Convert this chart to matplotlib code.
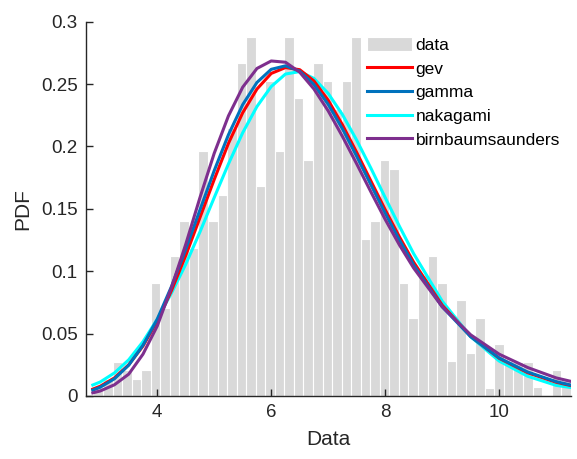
import numpy as np
import matplotlib
matplotlib.use("Agg")
import matplotlib.pyplot as plt

plt.rcParams['font.family'] = ['Liberation Sans', 'DejaVu Sans']

# histogram (pdf-normalised)
bin_start = 2.713
bin_width = 0.1675
bar_heights = [0.001, 0.0069, 0.0139, 0.0275, 0.0208, 0.0136, 0.0208, 0.0908,
               0.0702, 0.112, 0.140, 0.119, 0.196, 0.140, 0.161, 0.215,
               0.2665, 0.288, 0.168, 0.2527, 0.196, 0.288, 0.2385, 0.189,
               0.2665, 0.2527, 0.23, 0.2527, 0.288, 0.1258, 0.140, 0.189,
               0.182, 0.0908, 0.0628, 0.097, 0.112, 0.0908, 0.028, 0.077,
               0.0347, 0.0628, 0.0067, 0.0417, 0.028, 0.0275, 0.0275, 0.0069,
               0.0008, 0.0208, 0.0136, 0.0008]

# fitted pdf curves
curve_x = [2.87, 3.0, 3.25, 3.5, 3.75, 4.0, 4.25, 4.5, 4.75, 5.0, 5.25, 5.5,
           5.75, 6.0, 6.25, 6.5, 6.75, 7.0, 7.25, 7.5, 7.75, 8.0, 8.25, 8.5,
           9.0, 9.5, 10.0, 10.5, 11.0, 11.25]
gev = [0.0055, 0.0078, 0.0145, 0.025, 0.040, 0.060, 0.0845, 0.1125, 0.143,
       0.1735, 0.2025, 0.227, 0.246, 0.2585, 0.2632, 0.2615, 0.2525, 0.2370,
       0.2173, 0.1952, 0.1722, 0.1493, 0.1275, 0.1072, 0.0728, 0.0478, 0.0302,
       0.0186, 0.0110, 0.0084]
gamma = [0.0047, 0.0070, 0.0138, 0.0247, 0.0406, 0.0615, 0.0877, 0.1175,
         0.1492, 0.1806, 0.2094, 0.2335, 0.2513, 0.2618, 0.2646, 0.2603,
         0.2496, 0.2337, 0.2141, 0.1921, 0.1692, 0.1465, 0.1250, 0.1050,
         0.0715, 0.0475, 0.0305, 0.0192, 0.0115, 0.0088]
nakagami = [0.0088, 0.0112, 0.0185, 0.0290, 0.0435, 0.0615, 0.0825, 0.1055,
            0.1315, 0.1590, 0.1860, 0.2110, 0.2320, 0.2480, 0.2580, 0.2600,
            0.2545, 0.2425, 0.2255, 0.2050, 0.1825, 0.1590, 0.1360, 0.1140,
            0.0760, 0.0475, 0.0280, 0.0158, 0.0085, 0.0068]
birnbaum = [0.0025, 0.0040, 0.0090, 0.0175, 0.0335, 0.0560, 0.0870, 0.1215,
            0.1590, 0.1945, 0.2245, 0.2475, 0.2625, 0.2685, 0.2675, 0.2595,
            0.2460, 0.2285, 0.2080, 0.1860, 0.1635, 0.1415, 0.1210, 0.1025,
            0.0715, 0.0490, 0.0335, 0.0228, 0.0145, 0.0118]

x_ticks = [4, 6, 8, 10]
y_ticks = [0, 0.05, 0.1, 0.15, 0.2, 0.25, 0.3]
y_labels = ['0', '0.05', '0.1', '0.15', '0.2', '0.25', '0.3']

fig = plt.figure(figsize=(5.77, 4.59), dpi=100)
ax = fig.add_axes([0.149, 0.1373, 0.8406, 0.8155])

edges = bin_start + bin_width * np.arange(len(bar_heights))
bars = ax.bar(edges, bar_heights, width=bin_width, align='edge', color='#d9d9d9',
              edgecolor='white', linewidth=0.8, label='data', zorder=1)

lw = 2.2
l1, = ax.plot(curve_x, gev, color='#ff0000', lw=lw, label='gev', zorder=3)
l2, = ax.plot(curve_x, gamma, color='#0072bd', lw=lw, label='gamma', zorder=4)
l3, = ax.plot(curve_x, nakagami, color='#00ffff', lw=lw, label='nakagami', zorder=2)
l4, = ax.plot(curve_x, birnbaum, color='#7e2f8e', lw=lw, label='birnbaumsaunders', zorder=5)

ax.set_xlim(2.75, 11.26)
ax.set_ylim(0, 0.3)
ax.set_xticks(x_ticks)
ax.set_yticks(y_ticks)
ax.set_yticklabels(y_labels)

for s in ['top', 'right']:
    ax.spines[s].set_visible(False)
for s in ['left', 'bottom']:
    ax.spines[s].set_color('#262626')
    ax.spines[s].set_linewidth(1.0)
ax.tick_params(direction='in', length=5, width=1.0, colors='#262626',
               labelsize=13.5, pad=6)

ax.set_xlabel('Data', fontsize=15, color='#262626', labelpad=6)
ax.set_ylabel('PDF', fontsize=15, color='#262626', labelpad=6)

leg = ax.legend([bars, l1, l2, l3, l4],
                ['data', 'gev', 'gamma', 'nakagami', 'birnbaumsaunders'],
                loc='upper left', bbox_to_anchor=(367 / 577, 1 - 37 / 459),
                bbox_transform=fig.transFigure, frameon=False, fontsize=12.5,
                handlelength=2.6, handleheight=0.85, handletextpad=0.2,
                labelspacing=0.45, borderpad=0, borderaxespad=0)

fig.savefig('out.png', dpi=100)
